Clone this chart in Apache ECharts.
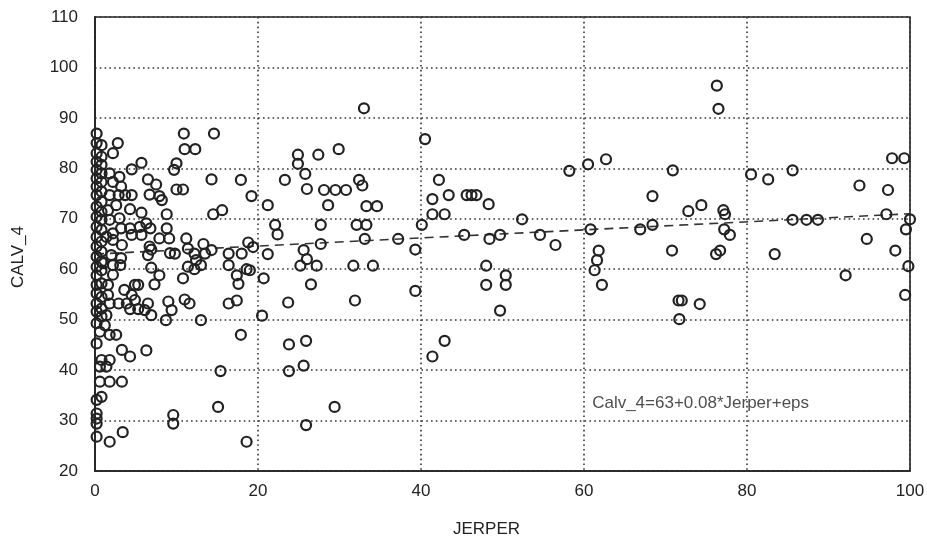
<!DOCTYPE html>
<html>
<head>
<meta charset="utf-8">
<script src="https://cdn.jsdelivr.net/npm/echarts@6/dist/echarts.min.js"></script>
<style>
  html, body { margin: 0; padding: 0; background: #fff; }
  #chart { width: 927px; height: 540px; }
</style>
</head>
<body>
<div id="chart"></div>
<script>
// Observations: share of Jersey blood (JERPER) vs. calving value (CALV_4)
const observations = [
  [0.2,86.9],[0.2,85.0],[0.2,83.0],[0.2,81.3],[0.2,79.7],[0.2,78.0],[0.2,76.4],[0.2,74.7],[0.2,72.4],[0.2,70.4],
  [0.2,68.4],[0.2,66.4],[0.2,64.5],[0.2,62.5],[0.2,60.5],[0.2,58.8],[0.2,56.9],[0.2,55.2],[0.2,53.2],[0.2,51.6],
  [0.2,49.3],[0.2,45.3],[0.2,34.1],[0.2,31.4],[0.2,30.4],[0.2,29.4],[0.2,26.8],
  [0.8,84.6],[0.8,82.3],[0.8,80.7],[0.8,79.0],[0.8,77.3],[0.8,75.4],[0.8,73.4],[0.8,71.4],[0.8,69.8],[0.8,67.8],
  [0.8,65.5],[0.8,63.5],[0.8,61.5],[0.8,59.8],[0.8,57.2],[0.8,54.5],[0.8,52.2],[0.8,50.6],[0.6,47.6],[0.8,42.0],
  [0.6,40.7],[0.6,37.7],[0.8,34.7],
  [1.8,79.0],[2.2,83.0],[2.8,85.0],[2.2,77.3],[3.0,78.3],[3.2,76.4],[1.8,74.7],[2.9,74.7],[3.7,74.7],[2.6,72.7],
  [1.6,71.7],[3.0,70.1],[1.8,69.8],[3.2,68.1],[2.2,67.1],[1.4,66.4],[2.2,65.8],[3.3,64.8],[2.0,62.8],[3.2,62.2],
  [1.0,61.2],[2.2,60.8],[3.1,60.8],[2.2,58.9],[1.6,56.9],[1.6,54.9],[1.8,53.2],[1.4,50.9],[1.2,48.9],[1.8,47.0],
  [2.6,47.0],[1.8,42.0],[1.4,40.7],[1.8,37.7],[3.3,37.7],[1.8,25.8],[3.4,27.7],[3.3,44.0],[4.3,42.7],[6.3,43.9],
  [5.7,81.1],[4.5,79.8],[6.5,77.8],[7.5,76.8],[7.9,74.5],[6.7,74.8],[4.5,74.7],[8.2,73.7],[4.3,71.9],[5.7,71.2],
  [8.8,70.9],[4.3,68.1],[5.5,68.4],[6.8,68.1],[6.3,69.1],[8.8,68.1],[4.5,66.8],[5.7,66.8],[7.9,66.1],[9.1,66.1],
  [11.2,66.1],[6.7,64.5],[6.5,62.8],[6.9,63.9],[9.2,63.2],[9.8,63.1],[11.4,64.1],[12.2,63.1],[13.3,65.0],[13.5,63.1],
  [12.4,61.8],[14.3,63.8],[6.9,60.3],[11.4,60.5],[12.2,60.0],[13.0,60.8],[7.9,58.8],[7.3,57.0],[10.8,58.2],[4.9,56.9],
  [5.3,56.9],[3.6,55.9],[4.5,54.9],[4.9,53.9],[2.9,53.2],[3.9,53.2],[4.3,52.1],[5.3,52.1],[6.1,51.9],[6.5,53.2],
  [6.9,50.9],[9.0,53.6],[9.4,51.9],[8.7,49.9],[11.0,54.0],[11.6,53.2],[13.0,49.9],[9.6,31.1],[9.6,29.4],
  [10.9,86.9],[14.6,86.9],[11.0,83.8],[12.3,83.8],[10.0,81.0],[9.7,79.7],[14.3,77.8],[10.0,75.8],[10.8,75.8],
  [14.5,70.9],[15.6,71.7],
  [17.9,77.7],[19.2,74.5],[21.2,72.7],[23.3,77.7],[24.9,82.7],[24.9,80.9],[27.4,82.7],[29.9,83.8],[25.8,78.9],
  [26.0,75.9],[28.1,75.7],[29.5,75.7],[30.8,75.7],[32.4,77.7],[32.8,76.6],[28.6,72.7],[33.3,72.5],[34.6,72.5],
  [22.1,68.8],[22.4,66.9],[27.7,68.8],[32.1,68.8],[33.3,68.8],[27.7,65.0],[33.1,66.0],[37.2,66.0],[39.3,63.9],
  [18.8,65.3],[19.4,64.4],[21.2,63.0],[25.6,63.8],[26.0,62.0],[25.2,60.7],[27.2,60.7],[31.7,60.7],[34.1,60.7],
  [26.5,57.0],[31.9,53.8],[23.7,53.4],[39.3,55.7],[16.4,63.1],[18.0,63.1],[16.4,60.8],[17.4,58.8],[17.6,57.1],
  [18.6,60.0],[19.0,59.8],[20.7,58.2],[16.4,53.2],[17.4,53.8],[17.9,47.0],[20.5,50.8],[23.8,45.1],[25.9,45.8],
  [23.8,39.8],[25.6,40.9],[15.4,39.8],[15.1,32.7],[29.4,32.7],[25.9,29.1],[18.6,25.8],[33.0,91.9],
  [40.5,85.8],[42.2,77.7],[41.4,73.9],[43.4,74.7],[45.6,74.7],[46.2,74.7],[46.8,74.7],[48.3,72.9],[41.4,70.9],
  [42.9,70.9],[40.1,68.8],[52.4,69.9],[45.3,66.8],[48.4,66.0],[49.7,66.8],[54.6,66.8],[56.5,64.8],[58.2,79.5],
  [60.5,80.8],[62.7,81.8],[60.8,67.9],[66.9,67.9],[68.4,68.8],[68.4,74.5],[61.8,63.7],[61.6,61.8],[61.3,59.8],
  [62.2,56.9],[48.0,60.7],[48.0,56.9],[50.4,58.8],[50.4,56.9],[49.7,51.8],[42.9,45.8],[41.4,42.7],
  [76.3,96.4],[76.5,91.8],[70.9,79.6],[72.8,71.5],[74.4,72.7],[77.1,71.7],[77.3,70.9],[77.2,67.9],[77.9,66.8],
  [70.8,63.7],[76.2,63.0],[76.7,63.7],[71.6,53.8],[72.0,53.8],[74.2,53.1],[71.7,50.1],[80.5,78.8],[82.6,77.8],
  [85.6,79.6],[85.6,69.8],[87.3,69.8],[88.7,69.8],[83.4,63.0],[92.1,58.8],[93.8,76.6],[97.3,75.7],[97.1,70.9],
  [94.7,66.0],[98.2,63.7],[97.8,82.0],[99.3,82.0],[100,69.9],[99.5,67.9],[99.8,60.6],[99.4,54.9]
];

// Fitted regression line Calv_4 = 63 + 0.08 * Jerper
const fitIntercept = 63;
const fitSlope = 0.08;
const fitRangeX = [0, 100];
const fitLabel = 'Calv_4=63+0.08*Jerper+eps';
const fitLabelPos = [61, 33.5];

// Axis setup
const xTicks = [0, 20, 40, 60, 80, 100];
const yTicks = [20, 30, 40, 50, 60, 70, 80, 90, 100, 110];

const fitLine = fitRangeX.map(x => [x, fitIntercept + fitSlope * x]);

const font = '"Liberation Sans", Arial, sans-serif';
const ink = '#222';
const dotted = { color: '#333', width: 1.6, type: [1.6, 3.2] };

const chart = echarts.init(document.getElementById('chart'), null, { renderer: 'canvas' });
chart.setOption({
  animation: false,
  backgroundColor: '#fff',
  grid: {
    left: 95, right: 17, top: 17, bottom: 69,
    outerBoundsMode: 'none', containLabel: false,
    show: true, borderColor: ink, borderWidth: 1.6, backgroundColor: 'transparent'
  },
  xAxis: {
    type: 'value',
    min: xTicks[0], max: xTicks[xTicks.length - 1], interval: 20,
    name: 'JERPER', nameLocation: 'middle', nameGap: 50,
    nameTextStyle: { fontFamily: font, fontSize: 17, color: ink, padding: [0, 32, 0, 0] },
    axisLine: { show: true, lineStyle: { color: ink, width: 1.6 } },
    axisTick: { show: false },
    axisLabel: { fontFamily: font, fontSize: 17, color: ink, margin: 12 },
    splitLine: { show: true, lineStyle: dotted }
  },
  yAxis: {
    type: 'value',
    min: yTicks[0], max: yTicks[yTicks.length - 1], interval: 10,
    name: 'CALV_4', nameLocation: 'middle', nameGap: 68,
    nameTextStyle: { fontFamily: font, fontSize: 17, color: ink, padding: [0, 26, 0, 0] },
    axisLine: { show: true, lineStyle: { color: ink, width: 1.6 } },
    axisTick: { show: false },
    axisLabel: { fontFamily: font, fontSize: 17, color: ink, margin: 17 },
    splitLine: { show: true, lineStyle: dotted }
  },
  series: [
    {
      type: 'line',
      data: fitLine,
      symbol: 'none',
      z: 1,
      lineStyle: { color: '#333', width: 1.6, type: [9, 6] }
    },
    {
      type: 'scatter',
      data: observations,
      symbol: 'circle',
      symbolSize: 10,
      z: 2,
      itemStyle: { color: 'rgba(0,0,0,0)', borderColor: ink, borderWidth: 2.2, opacity: 1 }
    },
    {
      type: 'scatter',
      data: [fitLabelPos],
      symbolSize: 0,
      silent: true,
      label: {
        show: true, position: 'right', distance: 0,
        formatter: fitLabel,
        fontFamily: font, fontSize: 17, color: ink
      }
    }
  ]
});
</script>
</body>
</html>
